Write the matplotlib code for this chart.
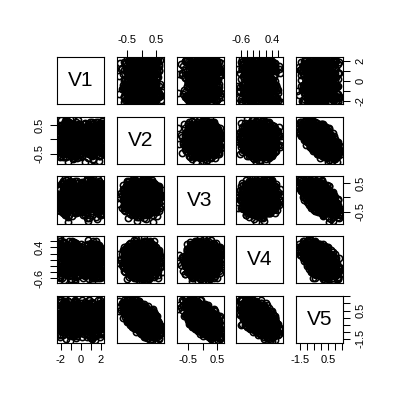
import matplotlib
matplotlib.use("Agg")
import matplotlib.pyplot as plt

plt.rcParams['font.family'] = ['Liberation Sans', 'DejaVu Sans']

names = ["V1", "V2", "V3", "V4", "V5"]

v1 = [1.35, -0.82, 2.05, -1.60, 0.55, -2.10, 1.02, -0.45, 1.78, -1.25,
      0.88, -1.95, 1.50, -0.60, 2.18, -1.05, 0.40, -1.72, 1.20, -0.95,
      -2.18, 1.65, -0.38, 0.95, -1.40, 1.88, -0.72, 0.62, -1.85, 1.12,
      1.42, -1.15, 0.70, -2.02, 1.95, -0.55, 1.28, -1.50, 0.48, -0.88,
      -1.30, 2.10, -0.65, 1.05, -1.78, 0.80, -1.10, 1.60, -2.08, 0.35,
      1.72, -0.98, 0.58, -1.62, 1.15, -0.42, 2.00, -1.35, 0.92, -1.90,
      -0.75, 1.48, -1.22, 0.68, -2.12, 1.82, -0.50, 1.08, -1.68, 0.25,
      1.25, -1.45, 0.45, -0.92, 2.15, -1.80, 0.85, -1.02, 1.55, -0.30,
      -1.58, 0.98, -2.05, 1.38, -0.68, 1.70, -1.28, 0.60, -0.85, 1.92,
      0.75, -1.70, 1.18, -0.48, 2.08, -1.18, 0.52, -1.98, 1.32, -0.78,
      -1.02, 1.58, -0.58, 0.90, -1.88, 1.45, -0.35, 1.98, -1.32, 0.72,
      1.10, -0.70, 2.12, -1.52, 0.65, -1.08, 1.62, -2.15, 0.42, -0.90,
      -1.42, 0.82, -0.62, 1.85, -1.95, 1.22, -0.80, 0.50, -1.65, 1.40,
      0.95, -1.20, 1.68, -0.40, 2.02, -1.55, 0.78, -1.00, 1.30, -2.00,
      -0.52, 1.52, -1.75, 0.58, -1.12, 1.90, -0.65, 1.05, -1.38, 0.32,
      1.80, -0.88, 0.68, -1.60, 1.15, -2.10, 0.45, -1.25, 1.75, -0.60,
      -1.85, 1.00, -0.45, 1.55, -1.05, 0.88, -1.72, 2.05, -0.78, 1.25,
      0.60, -1.48, 1.38, -0.95, 1.95, -1.30, 0.40, -2.05, 1.62, -0.55,
      -1.15, 0.72, -1.82, 1.45, -0.70, 2.10, -1.58, 0.98, -0.38, 1.70,
      1.08, -1.62, 0.55, -1.00, 1.88, -0.82, 1.32, -1.92, 0.80, -0.28,
      0.05, -0.15, 0.25, -0.30, 1.40, -2.00, 0.10, -0.05, 1.90, -1.10,
      -0.20, 0.30, -0.80, 1.60, 0.15, -1.50, 2.15, -0.10, 0.85, -1.85,
      0.00, -0.25, 1.20, -0.65, 0.20, 2.05, -1.35, 0.35, -2.15, 1.00,
      -0.12, 0.18, -1.70, 0.75, -0.35, 1.55, -0.90, 0.08, 2.12, -1.20,
      0.28, -0.48, 1.75, -0.18, 0.62, -2.08, 0.12, -0.75, 1.30, -1.62,
      -0.02, 0.40, -1.00, 1.85, -0.28, 0.92, -1.45, 0.22, -0.60, 2.18,
      0.15, -1.90, 0.48, -0.08, 1.10, -1.28, 0.32, -0.40, 1.65, -2.12,
      -0.22, 0.02, -1.55, 1.45, -0.15, 0.70, -1.80, 0.18, 1.98, -0.70,
      0.38, -0.32, 1.15, -2.05, 0.25, -0.95, 1.72, -0.05, 0.55, -1.40,
      -0.10, 1.35, -0.58, 2.00, -1.15, 0.10, -0.45, 0.82, -1.95, 1.60,
      -0.35, 0.45, -1.25, 1.05, -0.02, 1.78, -2.10, 0.30, -0.85, 0.65,
      1.95, -0.20, 0.12, -1.65, 1.25, -0.50, 0.88, -1.92, 0.22, -0.12,
      -1.05, 2.08, -0.30, 0.58, -1.48, 0.08, 1.50, -0.78, 0.35, -2.18,
      0.18, -0.62, 1.82, -0.15, 1.12, -1.32, 0.42, -0.05, 2.15, -1.78,
      0.70, -0.25, -1.12, 1.40, 0.02, -0.88, 1.68, -1.58, 0.28, -0.42,
      1.02, -2.02, 0.15, 0.95, -0.68, 1.88, -0.18, -1.38, 0.60, 0.38,
      -1.82, 1.28, -0.38, 0.05, 2.02, -1.02, 0.78, -0.55, 1.58, -1.68,
      0.48, -0.10, 1.15, -2.06, 0.32, -0.80, 1.92, -1.22, 0.12, -0.32,
      0.85, -1.52, 2.10, -0.45, 0.20, -1.10, 1.35, -0.02, -1.98, 0.68,
      -0.62, 1.70, -0.15, 0.42, -1.42, 1.05, -0.25, 1.85, -0.92, 0.25,
      -1.55, 0.95, -0.25, 1.85, -2.05, 0.40, 1.25, -0.90, 2.12, -1.30,
      0.65, -1.75, 1.50, -0.05, -0.62, 1.95, -1.18, 0.18, -2.15, 0.85,
      1.60, -0.45, 0.30, -1.92, 1.10, -0.72, 2.02, -1.40, 0.55, -0.15,
      -1.05, 1.78, -0.35, 0.98, -2.10, 1.38, -0.82, 0.12, 1.68, -1.62,
      0.25, -1.25, 2.18, -0.55, 1.02, -1.88, 0.72, -0.08, 1.45, -2.00,
      -0.30, 1.20, -1.48, 0.48, 1.90, -0.98, 0.08, -1.70, 2.08, -0.42,
      1.32, -2.12, 0.60, -0.20, 1.75, -1.15, 0.35, -0.68, 1.98, -1.35,
      0.90, -0.02, -1.82, 1.55, -0.50, 0.15, 2.10, -1.08, 0.78, -1.58,
      -0.88, 1.15, -0.12, 1.62, -2.08, 0.45, -1.22, 1.92, -0.38, 0.70,
      1.40, -1.68, 0.22, -0.78, 2.15, -1.95, 0.95, -0.58, 1.28, 0.02]

v2 = [0.12, -0.41, 0.55, -0.08, 0.30, -0.62, 0.02, 0.44, -0.25, 0.19,
      -0.33, 0.68, -0.15, 0.07, -0.50, 0.36, -0.04, 0.25, -0.71, 0.50,
      -0.20, 0.14, -0.45, 0.60, -0.10, 0.32, -0.58, 0.05, -0.28, 0.40,
      -0.05, 0.22, -0.66, 0.48, -0.37, 0.10, -0.52, 0.63, -0.12, 0.28,
      -0.78, 0.03, 0.45, -0.30, 0.15, -0.48, 0.70, -0.18, 0.35, -0.02,
      0.52, -0.40, 0.08, -0.22, 0.26, -0.55, 0.00, 0.58, -0.35, 0.18,
      -0.60, 0.42, -0.13, 0.30, -0.45, 0.11, -0.25, 0.62, -0.08, 0.20,
      -0.70, 0.38, -0.16, 0.55, -0.30, 0.05, -0.50, 0.25, -0.05, 0.66,
      -0.42, 0.15, -0.20, 0.48, -0.65, 0.32, -0.10, 0.12, -0.38, 0.58,
      -0.28, 0.00, 0.45, -0.58, 0.22, -0.15, 0.35, -0.45, 0.10, -0.25,
      0.05, -0.12, 0.28, -0.35, 0.40, -0.22, 0.18, -0.48, 0.08, -0.05,
      0.33, -0.18, 0.52, -0.62, 0.15, -0.28, 0.45, -0.08, 0.22, -0.40,
      0.60, -0.52, 0.02, 0.25, -0.32, 0.12, -0.68, 0.38, -0.15, 0.30,
      -0.45, 0.10, -0.20, 0.50, -0.35, 0.65, -0.02, 0.20, -0.55, 0.35,
      -0.10, 0.42, -0.62, 0.08, -0.28, 0.55, -0.40, 0.18, -0.06, 0.28,
      -0.75, 0.72, -0.15, 0.05, 0.00, 0.10, -0.80, 0.40, -0.30, 0.15,
      -0.12, 0.22, -0.32, 0.08, -0.02, 0.48, -0.42, 0.32, -0.22, 0.02,
      0.38, -0.52, 0.18, -0.08, 0.26, -0.36, 0.56, -0.18, 0.12, -0.60,
      0.45, -0.25, 0.05, -0.44, 0.30, -0.05, 0.62, -0.20, 0.15, -0.38,
      0.25, -0.15, 0.40, -0.55, 0.00, 0.20, -0.30, 0.50, -0.10, 0.12,
      0.10, -0.20, 0.35, -0.05, 0.18, -0.30, 0.25, -0.10, 0.05, -0.38,
      0.30, -0.15, 0.00, 0.42, -0.25, 0.15, -0.45, 0.20, -0.02, 0.38,
      -0.32, 0.12, -0.18, 0.45, -0.08, 0.28, -0.50, 0.08, -0.28, 0.55,
      -0.12, 0.20, -0.40, 0.02, 0.32, -0.22, 0.40, -0.58, 0.15, -0.05,
      0.22, -0.35, 0.05, -0.15, 0.48, -0.42, 0.10, -0.25, 0.35, -0.02,
      0.18, -0.30, 0.25, -0.10, 0.40, -0.48, 0.00, 0.30, -0.20, 0.12,
      -0.35, 0.22, -0.05, 0.52, -0.60, 0.08, -0.12, 0.35, -0.25, 0.15,
      -0.40, 0.28, -0.08, 0.45, -0.18, 0.05, -0.52, 0.20, -0.30, 0.38,
      -0.02, 0.12, -0.42, 0.32, -0.15, 0.00, 0.25, -0.35, 0.42, -0.10,
      0.18, -0.28, 0.08, -0.45, 0.35, -0.05, 0.22, -0.22, 0.50, -0.38,
      0.02, -0.10, 0.15, -0.20, 0.28, -0.08, 0.10, -0.32, 0.22, -0.15,
      0.05, -0.25, 0.32, -0.02, 0.18, -0.38, 0.12, -0.18, 0.38, -0.05,
      0.25, -0.28, 0.08, -0.42, 0.45, -0.12, 0.15, -0.22, 0.35, -0.08,
      0.20, -0.35, 0.00, 0.28, -0.22, 0.12, -0.45, 0.40, -0.10, 0.05,
      -0.30, 0.22, -0.15, 0.30, -0.48, 0.10, -0.05, 0.42, -0.25, 0.15,
      -0.35, 0.00, 0.35, -0.18, 0.08, -0.40, 0.25, -0.12, 0.48, -0.28,
      0.05, -0.08, 0.32, -0.52, 0.18, -0.02, 0.38, -0.20, 0.12, -0.30,
      0.28, -0.42, 0.02, 0.40, -0.15, 0.20, -0.35, 0.08, -0.25, 0.52,
      -0.05, 0.15, -0.38, 0.30, -0.10, 0.22, -0.45, 0.05, 0.35, -0.20,
      0.10, -0.32, 0.25, -0.12, 0.45, -0.55, 0.02, 0.30, -0.18, 0.18,
      0.50, -0.50, 0.30, -0.30, 0.20, -0.20, 0.55, -0.55, 0.40, -0.40,
      0.15, -0.15, 0.60, -0.62, 0.05, -0.05, 0.10, -0.10, 0.45, -0.45,
      0.35, -0.35, 0.52, -0.52, 0.25, -0.25, 0.48, -0.48, 0.00, 0.00,
      0.58, -0.58, 0.20, -0.20, 0.30, -0.30, 0.42, -0.42, 0.62, -0.62,
      0.10, -0.10, 0.28, -0.28, 0.38, -0.38, 0.55, -0.55, 0.12, -0.12,
      0.45, -0.45, 0.22, -0.22, 0.50, -0.50, 0.32, -0.32, 0.65, -0.65,
      0.05, -0.05, 0.40, -0.40, 0.18, -0.18, 0.55, -0.55, 0.25, -0.25,
      0.35, -0.35, 0.08, -0.08, 0.60, -0.60, 0.30, -0.30, 0.45, -0.45,
      0.15, -0.15, 0.52, -0.52, 0.38, -0.38, 0.60, -0.60, 0.02, -0.02,
      0.48, -0.48, 0.25, -0.25, 0.58, -0.58, 0.10, -0.10, 0.42, -0.42]

v3 = [-0.35, 0.22, 0.10, -0.52, 0.41, -0.05, 0.58, -0.28, -0.18, 0.03,
      0.47, -0.12, -0.66, 0.25, -0.40, 0.52, -0.09, -0.45, 0.15, 0.33,
      0.05, -0.75, 0.38, 0.20, -0.30, -0.02, -0.48, 0.62, 0.12, -0.60,
      0.30, -0.20, 0.28, 0.45, -0.15, -0.38, 0.56, -0.35, 0.08, 0.18,
      -0.22, -0.55, 0.00, 0.64, -0.12, -0.70, 0.25, 0.42, -0.25, 0.15,
      -0.50, 0.10, 0.35, -0.62, 0.50, -0.30, -0.05, 0.08, 0.55, -0.42,
      0.20, -0.10, -0.45, 0.28, -0.08, 0.48, -0.55, 0.30, 0.00, -0.32,
      -0.35, 0.60, 0.22, -0.65, -0.25, 0.45, 0.35, -0.08, -0.40, 0.12,
      -0.58, 0.38, -0.20, -0.30, 0.42, 0.15, -0.68, 0.65, -0.12, 0.40,
      0.28, -0.22, 0.22, -0.15, -0.58, 0.52, -0.45, 0.05, 0.10, -0.35,
      -0.02, 0.18, -0.15, 0.32, 0.05, -0.28, 0.25, 0.15, -0.35, 0.40,
      -0.05, -0.48, 0.28, -0.22, 0.02, 0.50, -0.40, 0.12, -0.62, 0.25,
      -0.18, -0.05, 0.32, 0.55, -0.40, -0.25, 0.08, -0.52, 0.20, 0.40,
      0.58, -0.12, -0.32, 0.18, -0.60, -0.02, 0.30, 0.08, 0.40, -0.38,
      -0.10, 0.50, -0.42, -0.70, 0.05, 0.35, -0.18, 0.60, -0.50, 0.12,
      0.00, 0.05, -0.80, 0.66, 0.00, -0.10, 0.10, -0.84, -0.10, 0.20,
      -0.05, 0.10, 0.15, -0.28, 0.38, -0.22, -0.32, 0.45, -0.15, 0.22,
      -0.28, 0.22, -0.40, 0.48, -0.08, 0.02, 0.15, -0.38, 0.28, -0.12,
      0.40, 0.60, -0.55, 0.30, -0.15, 0.08, -0.48, 0.35, -0.05, -0.45,
      0.22, -0.22, 0.00, 0.18, -0.30, 0.52, -0.02, -0.12, 0.45, -0.18,
      0.15, 0.05, -0.20, -0.25, 0.30, -0.10, 0.00, 0.35, -0.40, 0.20,
      0.10, -0.35, 0.25, -0.30, 0.40, -0.05, -0.20, 0.42, -0.15, 0.12,
      0.30, -0.50, 0.08, 0.25, -0.30, 0.35, 0.00, 0.20, -0.42, -0.05,
      0.12, -0.20, 0.35, -0.08, 0.05, -0.45, 0.28, 0.12, -0.32, 0.18,
      0.45, -0.25, 0.02, 0.28, -0.15, 0.10, -0.35, 0.22, 0.38, -0.55,
      0.05, -0.05, -0.25, 0.42, -0.42, 0.25, 0.15, -0.10, -0.38, 0.32,
      0.15, -0.02, -0.28, 0.20, -0.30, 0.50, -0.12, 0.12, 0.02, -0.48,
      -0.02, 0.25, 0.35, -0.35, -0.18, 0.08, 0.45, -0.12, 0.28, -0.22,
      0.00, -0.18, 0.38, 0.02, -0.52, 0.38, -0.28, 0.10, 0.18, -0.10,
      0.30, -0.32, 0.05, 0.20, -0.38, 0.52, 0.10, -0.22, 0.00, -0.05,
      -0.10, 0.02, 0.18, -0.12, -0.08, 0.25, -0.22, 0.08, 0.38, -0.38,
      0.12, 0.15, -0.32, 0.22, -0.02, -0.28, 0.28, -0.05, 0.15, -0.42,
      0.02, 0.32, -0.15, -0.12, 0.08, 0.45, -0.30, 0.12, -0.12, -0.22,
      0.20, 0.02, -0.18, 0.32, -0.35, 0.00, 0.28, -0.25, 0.05, 0.40,
      -0.15, -0.38, 0.22, 0.05, -0.08, 0.32, -0.45, 0.25, -0.02, 0.15,
      0.42, -0.05, 0.22, -0.32, -0.08, 0.18, -0.45, 0.35, 0.10, -0.28,
      0.30, -0.12, -0.18, 0.05, 0.48, -0.30, 0.35, -0.48, -0.10, 0.25,
      -0.05, -0.15, 0.18, 0.28, -0.20, 0.05, -0.40, 0.38, 0.10, -0.22,
      0.05, -0.42, 0.35, 0.18, -0.35, 0.12, -0.20, 0.25, -0.02, 0.18,
      -0.25, 0.40, -0.35, -0.15, 0.30, -0.10, 0.50, -0.50, 0.28, -0.05,
      0.30, -0.30, -0.50, 0.50, 0.30, -0.30, -0.15, 0.15, 0.40, -0.40,
      -0.55, 0.55, 0.00, 0.05, 0.58, -0.62, 0.10, -0.10, -0.45, 0.45,
      0.20, -0.20, 0.25, -0.25, -0.35, 0.35, -0.05, 0.05, 0.45, -0.45,
      0.20, -0.20, 0.55, -0.55, -0.30, 0.30, 0.42, -0.42, -0.30, 0.30,
      -0.62, 0.62, 0.05, -0.05, -0.48, 0.48, 0.35, -0.35, 0.40, -0.40,
      0.10, -0.10, -0.58, 0.58, -0.25, 0.25, 0.48, -0.48, 0.10, -0.10,
      0.30, -0.30, -0.15, 0.15, 0.62, -0.62, -0.40, 0.40, 0.25, -0.25,
      0.52, -0.52, -0.25, 0.25, 0.25, -0.25, -0.55, 0.55, 0.22, -0.22,
      0.48, -0.48, -0.52, 0.52, 0.00, 0.00, 0.38, -0.38, -0.40, 0.40,
      0.15, -0.15, -0.45, 0.45, -0.10, 0.10, 0.55, -0.55, -0.28, 0.28]

v4 = [0.28, -0.15, 0.31, -0.33, -0.47, 0.18, 0.05, -0.55, 0.49, -0.08,
      0.36, -0.20, 0.10, -0.62, -0.28, 0.40, -0.42, 0.57, 0.02, -0.12,
      0.66, -0.18, -0.40, 0.22, 0.00, -0.35, 0.25, -0.25, -0.60, 0.12,
      0.45, -0.05, 0.30, -0.30, 0.42, -0.68, -0.05, 0.08, -0.22, 0.60,
      -0.10, 0.35, 0.48, 0.15, -0.45, 0.05, -0.40, -0.52, 0.25, -0.35,
      -0.15, 0.55, 0.20, -0.45, -0.58, 0.38, 0.02, -0.48, -0.18, 0.40,
      -0.35, 0.62, -0.20, 0.08, -0.55, -0.10, 0.52, 0.15, -0.65, -0.28,
      0.20, 0.30, 0.12, -0.08, -0.48, 0.55, 0.08, -0.62, 0.30, -0.25,
      -0.25, -0.40, 0.60, 0.35, -0.22, -0.15, -0.35, 0.25, 0.00, -0.60,
      0.65, -0.12, 0.45, -0.40, 0.15, -0.30, -0.40, 0.28, -0.55, 0.10,
      0.18, -0.05, -0.22, 0.22, 0.05, -0.15, 0.38, 0.35, -0.05, -0.45,
      0.50, 0.22, -0.05, -0.12, 0.28, 0.40, -0.35, 0.55, -0.45, -0.10,
      0.30, -0.62, -0.20, 0.00, 0.45, 0.62, -0.18, 0.20, -0.38, 0.52,
      0.12, -0.30, -0.58, 0.42, 0.05, -0.12, 0.32, -0.68, -0.28, 0.00,
      0.38, -0.20, 0.30, 0.10, -0.50, 0.15, -0.30, 0.42, -0.08, 0.25,
      0.00, 0.10, 0.15, -0.15, -0.70, 0.71, 0.20, -0.10, -0.15, 0.10,
      -0.30, -0.38, 0.48, 0.35, 0.08, -0.50, 0.15, -0.35, 0.20, -0.58,
      -0.18, 0.45, 0.50, 0.18, 0.05, -0.42, -0.28, -0.60, 0.40, 0.10,
      0.05, -0.42, -0.22, -0.05, 0.58, 0.25, 0.20, 0.55, -0.52, -0.05,
      -0.12, 0.32, -0.15, 0.20, -0.40, 0.22, -0.25, 0.12, -0.12, 0.05,
      -0.20, 0.15, 0.10, -0.10, -0.30, 0.25, 0.30, -0.35, 0.20, -0.10,
      -0.05, 0.35, 0.00, -0.25, 0.30, -0.40, 0.05, 0.15, -0.45, 0.35,
      -0.25, 0.05, 0.40, -0.45, 0.12, 0.10, -0.20, 0.48, -0.30, 0.02,
      0.10, -0.15, 0.25, -0.28, 0.42, 0.08, -0.12, 0.05, 0.22, -0.52,
      -0.08, -0.05, 0.32, -0.18, 0.18, -0.40, -0.10, 0.22, -0.32, 0.28,
      0.05, 0.35, -0.42, 0.02, 0.28, -0.22, 0.45, -0.50, 0.15, -0.25,
      0.00, 0.38, -0.35, -0.20, 0.40, 0.12, -0.05, -0.38, 0.52, -0.20,
      0.12, 0.28, -0.08, 0.00, 0.45, -0.42, 0.10, 0.15, -0.45, -0.08,
      0.20, -0.32, 0.30, -0.30, -0.15, 0.28, 0.45, -0.30, 0.00, -0.22,
      0.22, 0.28, -0.15, 0.18, -0.28, -0.05, 0.55, -0.48, -0.35, 0.00,
      0.08, -0.12, 0.02, 0.22, -0.12, 0.18, -0.22, 0.32, -0.05, 0.00,
      0.38, -0.28, 0.15, -0.38, 0.28, -0.20, 0.35, 0.10, -0.18, -0.12,
      -0.02, 0.05, 0.42, -0.08, 0.22, -0.22, -0.45, 0.28, 0.08, 0.30,
      -0.30, 0.38, -0.18, 0.05, -0.32, 0.00, -0.12, 0.32, -0.48, 0.18,
      0.15, 0.00, 0.35, -0.42, -0.02, -0.08, 0.25, 0.12, -0.35, 0.15,
      -0.02, 0.35, -0.22, 0.05, -0.25, 0.25, 0.10, 0.42, -0.28, 0.02,
      -0.40, 0.48, -0.38, 0.10, 0.28, -0.25, -0.10, -0.42, 0.18, 0.08,
      -0.15, 0.38, -0.32, 0.40, -0.02, 0.30, -0.38, -0.18, -0.05, 0.05,
      -0.08, 0.35, -0.35, 0.10, 0.20, -0.48, 0.28, 0.05, -0.05, -0.22,
      0.40, 0.18, -0.20, -0.40, -0.02, 0.22, 0.32, 0.22, -0.28, -0.05,
      -0.20, 0.20, -0.30, 0.30, 0.50, -0.50, 0.30, -0.30, -0.35, 0.35,
      0.35, -0.35, -0.10, 0.10, 0.15, -0.15, 0.60, -0.60, 0.05, -0.05,
      0.40, -0.40, 0.10, -0.10, -0.45, 0.45, -0.40, 0.40, -0.45, 0.45,
      -0.25, 0.25, -0.28, 0.28, 0.50, -0.50, 0.10, -0.10, -0.05, 0.05,
      -0.20, 0.20, -0.55, 0.55, 0.32, -0.32, 0.05, -0.05, 0.48, -0.48,
      -0.50, 0.50, 0.10, -0.10, -0.35, 0.35, 0.28, -0.28, 0.12, -0.12,
      -0.55, 0.55, 0.48, -0.48, 0.00, 0.00, 0.15, -0.15, -0.52, 0.52,
      -0.15, 0.15, 0.58, -0.58, 0.25, -0.25, -0.15, 0.15, -0.45, 0.45,
      0.38, -0.38, -0.15, 0.15, 0.52, -0.52, -0.05, 0.05, -0.52, 0.52,
      0.35, -0.35, 0.42, -0.42, -0.35, 0.35, 0.40, -0.40, -0.50, 0.50]

v5 = [-0.08, 0.26, -1.15, 1.07, -0.51, 0.63, -0.91, 0.37, 0.00, -0.42,
      -0.64, -0.63, 0.87, 0.18, 1.43, -1.66, 0.38, -0.45, 0.55, -0.80,
      -0.78, 0.75, 0.59, -1.27, 0.42, -0.20, 0.89, -0.50, 0.76, 0.18,
      -1.06, 0.01, -0.04, -0.83, -0.08, 0.97, 0.07, -0.67, 0.21, -1.27,
      1.17, 0.22, -1.30, -0.55, 0.24, 1.26, -0.67, 0.22, -0.47, 0.27,
      0.00, -0.32, -0.71, 1.37, -0.43, 0.49, 0.14, -0.32, -0.25, -0.23,
      0.90, -1.19, 0.69, -0.94, 1.25, -0.56, 0.14, -1.50, 0.86, 0.35,
      1.02, -1.54, -0.49, 0.14, 1.02, -1.22, -0.09, 0.53, 0.02, -0.74,
      1.30, -0.08, -0.43, -0.67, 0.45, -0.62, 1.21, -1.39, 0.65, -0.53,
      -0.76, 0.20, -1.39, 1.11, 0.25, -0.18, 0.56, -0.04, 0.44, 0.48,
      -0.31, -0.21, 0.15, -0.38, -0.60, 0.68, -1.15, 0.04, 0.16, 0.09,
      -1.02, 0.54, -1.06, 1.11, -0.79, -0.75, 0.22, -0.68, 0.83, 0.20,
      -0.88, 1.23, -0.33, -0.91, 0.27, -0.82, 0.96, -0.19, 0.16, -1.56,
      -0.30, 0.30, 1.22, -1.30, 1.06, -0.81, -0.78, 0.33, 0.56, -0.22,
      -0.23, -1.01, 0.70, 0.55, 0.88, -1.39, 1.08, -1.46, 0.57, -0.88,
      0.76, -1.08, 0.86, -0.85, 0.79, -0.85, 0.50, 0.60, 0.50, -0.47,
      0.36, 0.05, -0.49, -0.16, -0.71, 0.24, 0.68, -0.72, 0.10, 0.44,
      -0.05, -0.18, -0.51, -0.80, -0.23, 0.70, -0.58, 1.24, -1.00, 0.64,
      -1.22, 0.08, 0.79, 0.01, -0.89, -0.44, -0.44, -1.02, 0.40, 0.92,
      -0.39, -0.14, -0.40, 0.18, 0.74, -1.13, 0.64, -0.76, -0.36, -0.12,
      -0.14, -0.18, -0.30, 0.43, -0.37, 0.18, -0.76, -0.10, 0.16, 0.24,
      -0.42, 0.03, -0.50, 0.10, -0.58, 0.20, 0.72, -1.02, 0.54, -1.00,
      0.27, 0.27, -0.46, -0.50, 0.30, -1.03, 0.74, -0.91, 1.10, -0.67,
      -0.12, -0.02, -0.34, 0.36, -1.00, 0.56, -0.77, 0.47, -0.24, 0.37,
      -0.71, 0.68, -0.62, 0.06, -0.71, 0.71, 0.42, -0.33, -0.64, 0.25,
      -0.36, -0.15, 0.40, -0.46, -0.46, 0.44, -0.72, 0.26, 0.37, -0.33,
      0.24, -0.80, 0.77, -0.77, 0.50, -0.89, 0.20, -0.21, -0.40, 0.54,
      0.31, -1.07, -0.38, -0.17, -0.21, 0.30, -0.14, -0.43, 0.51, -0.20,
      -0.22, 0.31, -0.41, -0.10, 0.88, -0.89, -0.55, 0.56, -0.82, 0.45,
      -0.89, 0.28, -0.13, 0.03, 0.27, -0.60, -1.09, 1.00, -0.28, 0.42,
      -0.05, 0.09, -0.47, 0.07, -0.25, -0.42, 0.31, -0.20, -0.71, 0.59,
      -0.81, 0.36, -0.23, 0.07, -0.63, 0.93, -0.95, 0.01, -0.47, 0.61,
      -0.35, -0.21, -0.52, 0.69, -0.95, -0.23, 0.62, -0.27, -0.47, -0.05,
      -0.22, -0.16, 0.38, -0.88, 0.97, -0.19, 0.25, -0.66, 0.54, -0.81,
      0.26, 0.14, -0.60, -0.02, 0.65, -0.51, 0.20, -1.00, 0.64, -0.59,
      -0.16, -0.41, -0.52, 0.44, 0.25, -0.14, 0.02, -0.83, -0.46, 0.55,
      0.01, -0.44, 0.19, 0.39, -1.18, 0.58, -0.86, 1.22, -0.29, -0.14,
      -0.20, 0.18, 0.04, -1.35, 0.34, -0.71, 1.26, -0.44, 0.19, -0.52,
      0.05, -0.20, 0.36, -0.75, 0.20, 0.07, 0.39, -0.52, -0.39, 0.19,
      -0.40, -0.36, 0.26, 0.70, -0.93, 0.42, -1.11, -0.07, 0.12, -0.20,
      -0.82, 0.62, 0.55, -0.70, -1.25, 1.10, -0.94, 0.79, -0.64, 0.44,
      0.01, -0.16, -0.65, 0.46, -1.04, 0.88, -1.01, 0.86, -0.16, -0.04,
      -1.24, 1.09, -1.14, 0.94, 0.56, -0.76, -0.09, -0.06, -0.15, -0.05,
      -0.74, 0.54, -0.66, 0.46, -0.70, 0.50, -1.23, 1.03, -0.42, 0.22,
      0.76, -0.96, 0.16, -0.36, -0.31, 0.16, -1.24, 1.04, -1.30, 1.10,
      -0.16, -0.04, 0.21, -0.41, 0.02, -0.22, -1.40, 1.20, -1.09, 0.94,
      0.14, -0.34, -0.98, 0.78, -1.06, 0.86, -0.46, 0.26, -0.08, -0.12,
      -0.96, 0.76, -0.59, 0.39, -1.42, 1.22, 0.38, -0.58, -0.36, 0.16,
      -1.31, 1.11, 0.08, -0.28, -1.18, 0.98, -1.22, 1.02, 0.98, -1.18,
      -1.28, 1.08, -0.36, 0.16, -0.26, 0.06, -1.36, 1.16, 0.33, -0.53]

# axis ticks and the labels R kept (overlapping ones dropped)
ticks_v1 = [-2, -1, 0, 1, 2]
labels_v1 = ["-2", "", "0", "", "2"]
ticks_v2 = [-0.5, 0.0, 0.5]
labels_v2 = ["-0.5", "", "0.5"]
ticks_v3 = [-0.5, 0.0, 0.5]
labels_v3 = ["-0.5", "", "0.5"]
ticks_v4 = [-0.6, -0.4, -0.2, 0.0, 0.2, 0.4, 0.6]
labels_v4 = ["-0.6", "", "", "", "", "0.4", ""]
ticks_v5 = [-1.5, -1.0, -0.5, 0.0, 0.5, 1.0, 1.5]
labels_v5 = ["-1.5", "", "", "", "0.5", "", ""]

data = [v1, v2, v3, v4, v5]
ticks = [ticks_v1, ticks_v2, ticks_v3, ticks_v4, ticks_v5]
tlabels = [labels_v1, labels_v2, labels_v3, labels_v4, labels_v5]

def lims(vals):
    lo, hi = min(vals), max(vals)
    r = hi - lo
    return (lo - 0.04 * r, hi + 0.04 * r)

limits = [lims(d) for d in data]

fig = plt.figure(figsize=(4, 4), dpi=100)
n = 5
S = 400.0
box = 47.0
starts = [57.3 + 59.6 * k for k in range(n)]
tick_kw = dict(length=5, width=0.75, pad=4.0, labelsize=8, direction='out', colors='black')

for i in range(n):
    for j in range(n):
        ax = fig.add_axes([starts[j] / S, 1 - (starts[i] + box) / S, box / S, box / S])
        for sp in ax.spines.values():
            sp.set_linewidth(0.8)
        if i == j:
            ax.text(0.5, 0.5, names[i], ha='center', va='center', fontsize=15,
                    transform=ax.transAxes)
        else:
            ax.plot(data[j], data[i], linestyle='none', marker='o', markersize=4.5,
                    markerfacecolor='none', markeredgecolor='black', markeredgewidth=1.15)
        ax.set_xlim(limits[j])
        ax.set_ylim(limits[i])
        ax.tick_params(axis='both', which='both', bottom=False, top=False, left=False,
                       right=False, labelbottom=False, labeltop=False, labelleft=False,
                       labelright=False)
        if i == 0 and j % 2 == 1:
            ax.set_xticks(ticks[j])
            ax.set_xticklabels(tlabels[j])
            ax.tick_params(axis='x', top=True, labeltop=True, **tick_kw)
        elif i == n - 1 and j % 2 == 0:
            ax.set_xticks(ticks[j])
            ax.set_xticklabels(tlabels[j])
            ax.tick_params(axis='x', bottom=True, labelbottom=True, **tick_kw)
        else:
            ax.set_xticks([])
        if j == 0 and i % 2 == 1:
            ax.set_yticks(ticks[i])
            ax.set_yticklabels(tlabels[i], rotation=90, va='center')
            ax.tick_params(axis='y', left=True, labelleft=True, **tick_kw)
        elif j == n - 1 and i % 2 == 0:
            ax.set_yticks(ticks[i])
            ax.set_yticklabels(tlabels[i], rotation=90, va='center')
            ax.tick_params(axis='y', right=True, labelright=True, **tick_kw)
        else:
            ax.set_yticks([])

fig.savefig("out.png", dpi=100)
